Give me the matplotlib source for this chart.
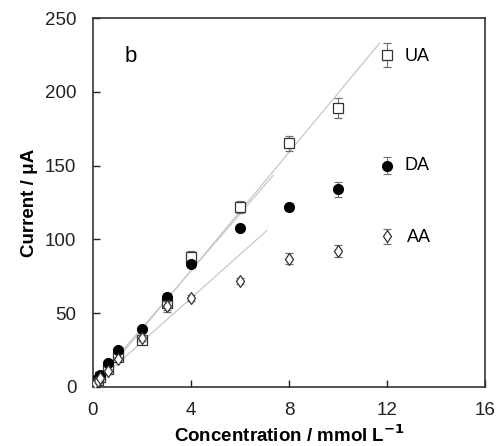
import numpy as np
import matplotlib.pyplot as plt

plt.rcParams['font.family'] = ['Liberation Sans', 'DejaVu Sans']

# concentration / mmol L-1
conc = [0.02, 0.05, 0.1, 0.2, 0.3, 0.6, 1, 2, 3, 4, 6, 8, 10, 12]
ua = [1, 2, 4, 5, 7, 12, 20, 32, 57, 88, 122, 165, 189, 225]
da = [1, 2, 3.5, 5.5, 8, 16, 25, 39, 61, 83, 108, 122, 134, 150]
aa = [1, 1.5, 3, 4, 6, 11, 19, 33, 55, 60, 72, 87, 92, 102]
ua_err = [0.5, 0.5, 0.5, 0.5, 1, 1, 2, 3, 6, 4, 4, 5, 7, 8]
da_err = [0.5, 0.5, 0.5, 0.5, 1, 1, 1, 2, 3, 2, 2, 3, 5, 6]
aa_err = [0.5, 0.5, 0.5, 0.5, 1, 1, 1, 2, 3, 2, 2, 4, 4, 5]

# linear fits (slope, intercept, x end)
fit_ua = (20.0, -1.0, 11.7)
fit_da = (19.3, 1.5, 7.35)
fit_aa = (14.8, 1.0, 7.1)

fig = plt.figure(figsize=(5, 4.46), dpi=100)
ax = fig.add_axes([0.186, 0.1323, 0.784, 0.8273])

for s, b, xe in (fit_ua, fit_da, fit_aa):
    xx = np.array([0, xe])
    ax.plot(xx, s * xx + b, color='#c8c8c8', lw=0.9, zorder=1)

ekw = dict(ecolor='#707070', elinewidth=0.8, capsize=3, capthick=0.8, ls='none')
ax.errorbar(conc, ua, yerr=ua_err, marker='s', ms=6.5, mfc='white', mec='#333333',
            mew=0.9, zorder=3, **ekw)
ax.errorbar(conc, da, yerr=da_err, marker='o', ms=7, mfc='black', mec='black',
            zorder=4, **ekw)
ax.errorbar(conc, aa, yerr=aa_err, marker='d', ms=6.5, mfc='white', mec='#333333',
            mew=0.9, zorder=5, **ekw)

ax.text(12.7, 224, 'UA', fontsize=13, va='center')
ax.text(12.7, 150, 'DA', fontsize=13, va='center')
ax.text(12.8, 101, 'AA', fontsize=13, va='center')
ax.text(1.3, 224, 'b', fontsize=16, va='center')

ax.set_xlim(0, 16)
ax.set_ylim(0, 250)
ax.set_xticks([0, 4, 8, 12, 16])
ax.set_yticks([0, 50, 100, 150, 200, 250])
ax.tick_params(direction='in', labelsize=13.5, length=5, width=1, colors='#222222')
ax.tick_params(axis='y', pad=12)
ax.tick_params(axis='x', pad=11)
for sp in ax.spines.values():
    sp.set_linewidth(1.2)
    sp.set_color('#333333')

ax.set_xlabel('Concentration / mmol L$^{\\mathbf{-1}}$', fontsize=13.5, fontweight='bold', labelpad=4)
ax.set_ylabel('Current / \u03bcA', fontsize=13.5, fontweight='bold', labelpad=5)

fig.savefig('out.png', dpi=100)
